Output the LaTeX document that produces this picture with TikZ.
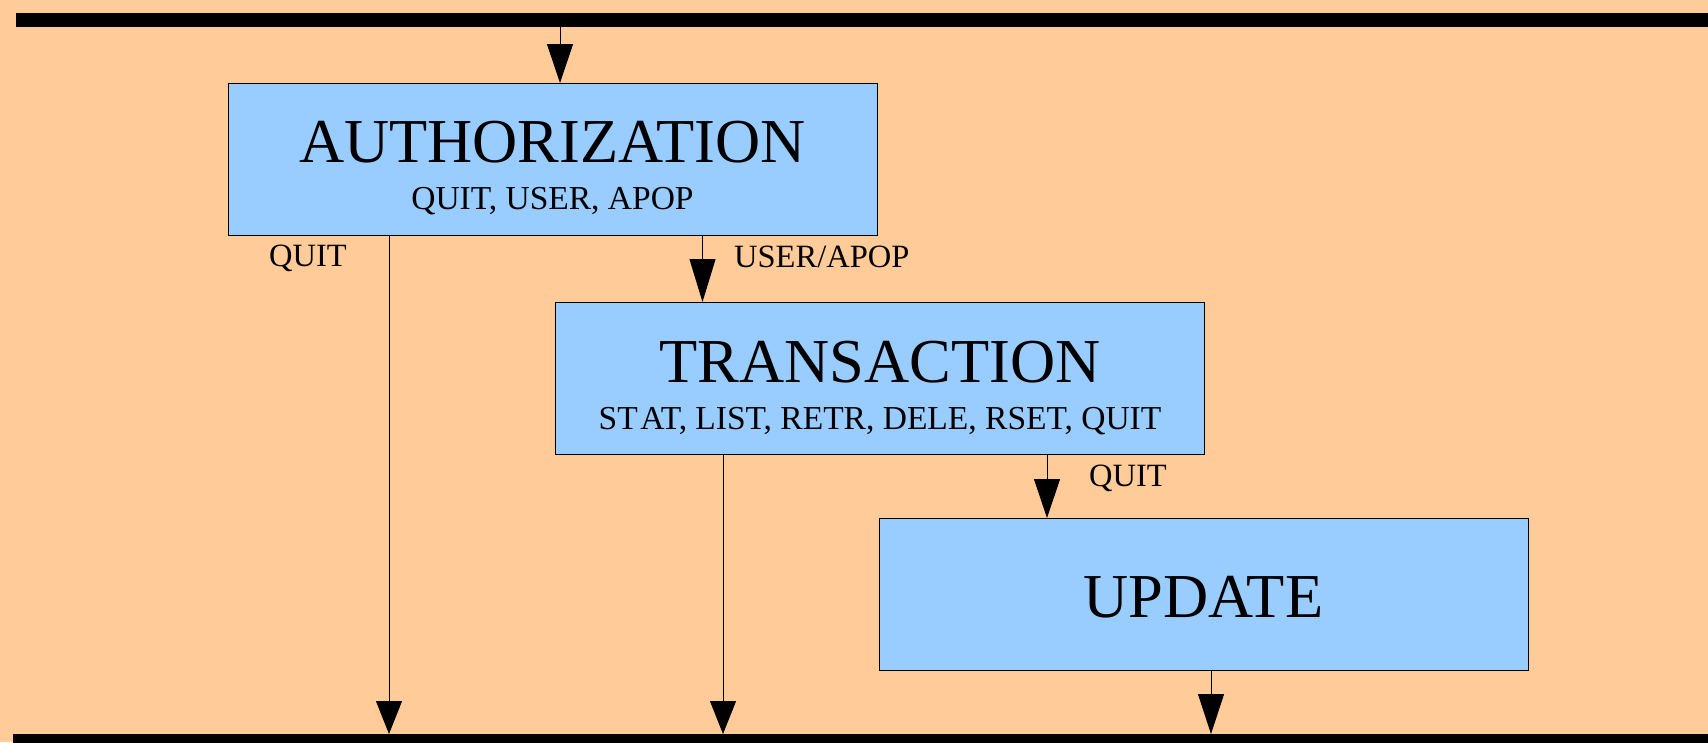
\documentclass[tikz,border=0pt]{standalone}
\usepackage{fontspec}
\setmainfont{Liberation Serif}
\usetikzlibrary{arrows.meta}
\definecolor{peach}{HTML}{FFCC99}
\definecolor{sky}{HTML}{99CCFF}
\begin{document}
\begin{tikzpicture}[x=1pt,y=-1pt,
  statebox/.style={draw=black,line width=1pt,fill=sky,rectangle,inner sep=0pt,
    minimum width=649pt,minimum height=152pt},
  bigtxt/.style={anchor=base,inner sep=0pt,font=\fontsize{62.5}{62.5}\selectfont},
  smalltxt/.style={anchor=base,inner sep=0pt,font=\fontsize{33.5}{33.5}\selectfont},
  lbl/.style={anchor=base west,inner sep=0pt,font=\fontsize{32.5}{32.5}\selectfont},
  conn/.style={line width=1pt,-{Triangle[length=39pt,width=26pt]}}]
\fill[peach] (0,0) rectangle (1708,742);
\useasboundingbox (0,0) rectangle (1708,742);
% bars
\fill[black] (16,13) rectangle (1708,27);
\fill[black] (13,734) rectangle (1708,748);
\coordinate (topc) at (560,27);
\coordinate (b1) at (389,734);
\coordinate (b2) at (723,734);
\coordinate (b3) at (1211,734);
% boxes
\node[statebox] (auth) at (552.5,159) {};
\node[statebox] (trans) at (880,378.5) {};
\node[statebox] (upd) at (1203.5,594.5) {};
% texts
\node[bigtxt] (authT) at (552.5,162) {AUTHORIZATION};
\node[smalltxt] (authS) at (552.5,209) {QUIT, USER, APOP};
\node[bigtxt] (transT) at (880,382) {TRANSACTION};
\node[smalltxt] (transS) at (880,429) {ST\kern2.5pt AT, LIST, RETR, DELE, RSET, QUIT};
\node[bigtxt] (updT) at (1203.5,617) {UPDATE};
% connectors
\draw[conn] (topc) -- (560,83);
\draw[conn,-{Triangle[length=43pt,width=26pt]}] (702.5,235) -- (702.5,302);
\draw[conn] (1047,455) -- (1047,518);
\draw[conn,-{Triangle[length=33pt,width=26pt]}] (389,235) -- (b1);
\draw[conn,-{Triangle[length=33pt,width=26pt]}] (723,455) -- (b2);
\draw[conn,-{Triangle[length=40pt,width=26pt]}] (1211,671) -- (b3);
% labels
\node[lbl] (lq1) at (269,266) {QUIT};
\node[lbl] (lua) at (734,267) {USER/APOP};
\node[lbl] (lq2) at (1089,486) {QUIT};
\end{tikzpicture}
\end{document}
